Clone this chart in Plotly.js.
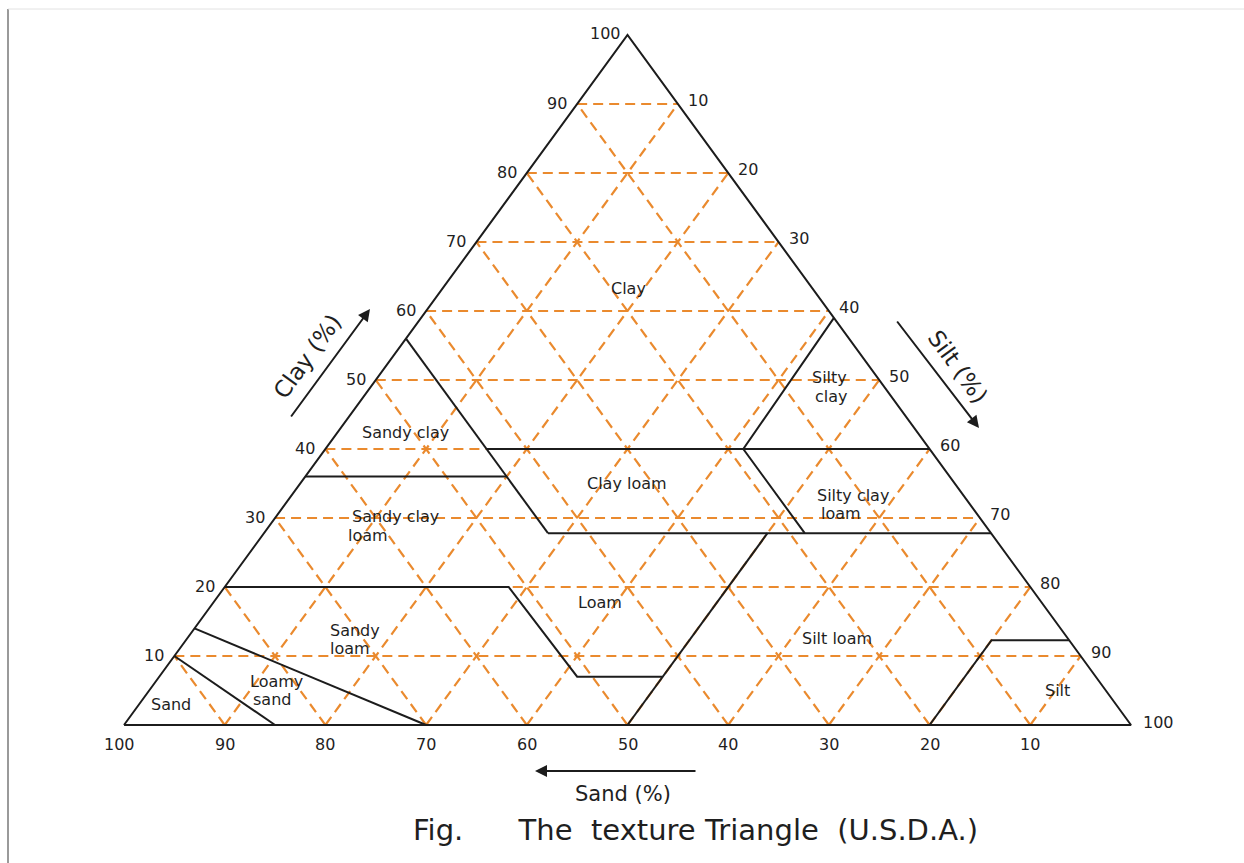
<!DOCTYPE html>
<html>
<head>
<meta charset="utf-8">
<script src="https://cdn.plot.ly/plotly-3.0.1.min.js"></script>
<style>
html,body{margin:0;padding:0;background:#ffffff;}
#chart{width:1244px;height:863px;}
</style>
</head>
<body>
<div id="chart"></div>
<script>
// ---------------- data (percent) ----------------
const gridLevels = [10, 20, 30, 40, 50, 60, 70, 80, 90];
const clayTicks  = [10, 20, 30, 40, 50, 60, 70, 80, 90];
const siltTicks  = [10, 20, 30, 40, 50, 60, 70, 80, 90];
const sandTicks  = [100, 90, 80, 70, 60, 50, 40, 30, 20, 10];

// texture-class boundary polylines, as (clay %, silt %) vertices
const sandLineClay        = [10, 0];      const sandLineSilt        = [0, 15];
const loamySandLineClay   = [14, 0];      const loamySandLineSilt   = [0, 30];
const sandyLoamTopClay    = [20, 20, 7, 7];   const sandyLoamTopSilt = [0, 28.2, 41.5, 50];
const siltLoamLeftClay    = [0, 27.8];    const siltLoamLeftSilt    = [50, 50];
const sandyClayRightClay  = [56, 27.8];   const sandyClayRightSilt  = [0, 28.2];
const sandyClayBottomClay = [36, 36];     const sandyClayBottomSilt = [0, 20];
const clay40Clay          = [40, 40];     const clay40Silt          = [16, 60];
const clayLoamBottomClay  = [27.8, 27.8]; const clayLoamBottomSilt  = [28.2, 72.2];
const siltyClayLeftClay   = [59, 40, 27.8]; const siltyClayLeftSilt = [41, 41.5, 53.7];
const siltBoxClay         = [0, 12.3, 12.3]; const siltBoxSilt      = [80, 80, 87.7];

const boundaries = [
  [sandLineClay, sandLineSilt],
  [loamySandLineClay, loamySandLineSilt],
  [sandyLoamTopClay, sandyLoamTopSilt],
  [siltLoamLeftClay, siltLoamLeftSilt],
  [sandyClayRightClay, sandyClayRightSilt],
  [sandyClayBottomClay, sandyClayBottomSilt],
  [clay40Clay, clay40Silt],
  [clayLoamBottomClay, clayLoamBottomSilt],
  [siltyClayLeftClay, siltyClayLeftSilt],
  [siltBoxClay, siltBoxSilt]
];

// ---------------- geometry ----------------
const W = 1244, H = 863;
const X0PX = 124, X100PX = 1131, Y0PX = 725, Y100PX = 35;
const pxPerX = (X100PX - X0PX) / 100;
const pxPerY = (Y0PX - Y100PX) / 100;
const M = {l: 0, r: 0, t: 0, b: 0, pad: 0};
const xr = [-X0PX / pxPerX, (W - X0PX) / pxPerX];
const yr = [-(H - Y0PX) / pxPerY, Y0PX / pxPerY];
const px2x = px => (px - X0PX) / pxPerX;
const py2y = py => (Y0PX - py) / pxPerY;

// ternary (clay, silt) -> cartesian
const tx = (clay, silt) => silt + clay / 2;
const ty = (clay) => clay;

// ---------------- traces ----------------
const gx = [], gy = [];
gridLevels.forEach(v => {
  gx.push(tx(v, 0), tx(v, 100 - v), null); gy.push(ty(v), ty(v), null);           // constant clay
  gx.push(tx(0, 100 - v), tx(100 - v, 0), null); gy.push(ty(0), ty(100 - v), null); // constant sand
  gx.push(tx(0, v), tx(100 - v, v), null); gy.push(ty(0), ty(100 - v), null);       // constant silt
});

const bx = [], by = [];
boundaries.forEach(([c, s]) => {
  c.forEach((cv, i) => { bx.push(tx(cv, s[i])); by.push(ty(cv)); });
  bx.push(null); by.push(null);
});

const traces = [
  {type: 'scatter', mode: 'lines', x: gx, y: gy, hoverinfo: 'skip',
   line: {color: '#EA8A2E', width: 2.2, dash: '10px,6px'}},
  {type: 'scatter', mode: 'lines', x: bx, y: by, hoverinfo: 'skip',
   line: {color: '#1c1c1c', width: 2}},
  {type: 'scatter', mode: 'lines', hoverinfo: 'skip',
   x: [tx(0, 0), tx(100, 0), tx(0, 100), tx(0, 0)],
   y: [ty(0), ty(100), ty(0), ty(0)],
   line: {color: '#1c1c1c', width: 2}}
];

// ---------------- annotations ----------------
const FONT = 'DejaVu Sans, sans-serif';
const TXT = '#1f1f1f';
const TS = 16;
const ann = [];
clayTicks.forEach(c => ann.push({x: tx(c, 0), y: ty(c), text: String(c), showarrow: false,
  xanchor: 'right', yanchor: 'middle', xshift: -8, yshift: 1, font: {family: FONT, size: TS, color: TXT}}));
ann.push({x: tx(100, 0), y: ty(100), text: '100', showarrow: false, xanchor: 'right', yanchor: 'middle',
  xshift: -5, yshift: 2, font: {family: FONT, size: TS, color: TXT}});
siltTicks.forEach(s => ann.push({x: tx(100 - s, s), y: ty(100 - s), text: String(s), showarrow: false,
  xanchor: 'left', yanchor: 'middle', xshift: 8, yshift: 4, font: {family: FONT, size: TS, color: TXT}}));
ann.push({x: tx(0, 100), y: ty(0), text: '100', showarrow: false, xanchor: 'left', yanchor: 'middle',
  xshift: 10, yshift: 3, font: {family: FONT, size: TS, color: TXT}});
sandTicks.forEach(s => ann.push({x: tx(0, 100 - s), y: ty(0), text: String(s), showarrow: false,
  xanchor: 'center', yanchor: 'top', xshift: s === 100 ? -5 : 0, yshift: -8, font: {family: FONT, size: TS, color: TXT}}));

// class names (centre pixel positions)
const classLabels = [
  ['Clay', 628, 288], ['Silty', 829, 377], ['clay', 831, 396],
  ['Sandy clay', 405, 432], ['Clay loam', 627, 483],
  ['Silty clay', 853, 495], ['loam', 841, 513],
  ['Sandy clay', 395, 516], ['loam', 368, 535],
  ['Loam', 600, 602], ['Sandy', 355, 630], ['loam', 350, 648],
  ['Silt loam', 837, 638], ['Loamy', 276, 681], ['sand', 272, 699],
  ['Sand', 171, 704], ['Silt', 1057, 690]
];
classLabels.forEach(([t, px, py]) => ann.push({x: px2x(px), y: py2y(py), text: t, showarrow: false,
  xanchor: 'center', yanchor: 'middle', font: {family: FONT, size: TS, color: TXT}}));

// axis names and arrows
ann.push({x: px2x(307), y: py2y(357), text: 'Clay (%)', showarrow: false, textangle: -54,
  font: {family: FONT, size: 23, color: TXT}});
ann.push({x: px2x(958), y: py2y(367), text: 'Silt (%)', showarrow: false, textangle: 54,
  font: {family: FONT, size: 23, color: TXT}});
ann.push({x: px2x(623), y: py2y(794), text: 'Sand (%)', showarrow: false,
  font: {family: FONT, size: 21, color: TXT}});
ann.push({x: px2x(370), y: py2y(309), ax: -80, ay: 109, text: '', showarrow: true,
  arrowhead: 2, arrowsize: 1.2, arrowwidth: 2, arrowcolor: '#1c1c1c'});
ann.push({x: px2x(979), y: py2y(428), ax: -83, ay: -108, text: '', showarrow: true,
  arrowhead: 2, arrowsize: 1.2, arrowwidth: 2, arrowcolor: '#1c1c1c'});
ann.push({x: px2x(535), y: py2y(771), ax: 162, ay: 0, text: '', showarrow: true,
  arrowhead: 2, arrowsize: 1.2, arrowwidth: 2, arrowcolor: '#1c1c1c'});

// caption
const NB = '\u00a0';
ann.push({x: px2x(695), y: py2y(830),
  text: 'Fig.' + NB.repeat(6) + 'The' + NB.repeat(2) + 'texture Triangle' + NB.repeat(2) + '(U.S.D.A.)',
  showarrow: false, font: {family: FONT, size: 29, color: '#1f1f1f'}});

ann.forEach(a => { a.xref = 'x'; a.yref = 'y'; });

// page frame
const shapes = [
  {type: 'line', xref: 'x', yref: 'y', x0: px2x(8), x1: px2x(8), y0: py2y(9), y1: py2y(863),
   line: {color: '#9a9a9a', width: 2}},
  {type: 'line', xref: 'x', yref: 'y', x0: px2x(8), x1: px2x(1244), y0: py2y(9), y1: py2y(9),
   line: {color: '#e2e2e2', width: 1}}
];

const layout = {
  width: W, height: H,
  margin: M,
  paper_bgcolor: '#ffffff', plot_bgcolor: '#ffffff',
  showlegend: false,
  xaxis: {range: xr, visible: false, fixedrange: true},
  yaxis: {range: yr, visible: false, fixedrange: true},
  annotations: ann,
  shapes: shapes
};

Plotly.newPlot('chart', traces, layout, {staticPlot: true, displayModeBar: false});
</script>
</body>
</html>
